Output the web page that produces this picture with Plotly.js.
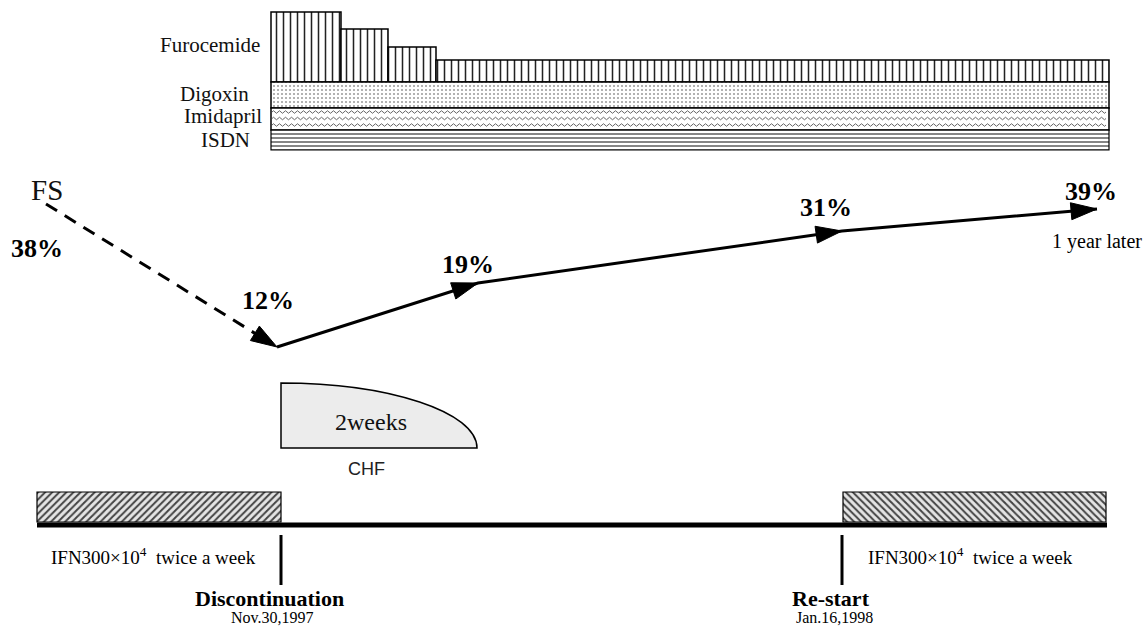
<!DOCTYPE html>
<html><head><meta charset="utf-8">
<script src="https://cdn.plot.ly/plotly-3.0.1.min.js"></script>
<style>html,body{margin:0;padding:0;background:#fff}#plot{width:1148px;height:631px}</style>
</head><body><div id="plot"></div>
<script>
// ---------- data (schematic diagram units) ----------
const drugNames = ['Furocemide', 'Digoxin', 'Imidapril', 'ISDN'];
const furoStart = [271, 341, 388, 436];      // step start along time
const furoEnd   = [341, 388, 436, 1109];     // step end along time
const furoDose  = [70, 53, 35, 22];          // relative dose (bar height)
const drugStart = 271, drugEnd = 1109;

const fsLabels = ['38%', '12%', '19%', '31%', '39%'];
const fsValues = [38, 12, 19, 31, 39];
const fsTime   = [46, 277, 478, 842, 1097];   // schematic time
const fsLevel  = [204, 347, 283, 231, 209];   // schematic level on drawing

const ifnStart = [37, 843];
const ifnEnd   = [281, 1106];
const timelineStart = 37, timelineEnd = 1107;
const events = ['Discontinuation', 'Re-start'];
const eventDates = ['Nov.30,1997', 'Jan.16,1998'];
const eventTime = [281, 842];
const chfStart = 281, chfEnd = 477;

// ---------- layout helpers ----------
const SERIF = 'Liberation Serif, Times New Roman, serif';
const traces = [];
const shapes = [];
const ann = [];

const rowFuroBottom = 82, rowDig = [82, 108], rowImi = [108, 130], rowIsdn = [130, 150];

// Furocemide steps
traces.push({
  type: 'bar', orientation: 'v',
  x: furoStart.map((s, i) => (s + furoEnd[i]) / 2),
  width: furoStart.map((s, i) => furoEnd[i] - s),
  base: furoStart.map(() => rowFuroBottom),
  y: furoDose.map(d => -d),
  marker: {color: '#fff', line: {color: '#000', width: 1.5},
    pattern: {shape: '|', size: 7, solidity: 0.22, fgcolor: '#222', bgcolor: '#fff'}},
  hoverinfo: 'skip', showlegend: false
});
// Digoxin
traces.push({
  type: 'bar', x: [(drugStart + drugEnd) / 2], width: [drugEnd - drugStart],
  base: [rowDig[0]], y: [rowDig[1] - rowDig[0]],
  marker: {color: '#fff', line: {color: '#000', width: 1.5},
    pattern: {shape: '.', size: 4, solidity: 0.2, fgcolor: '#999', bgcolor: '#fff'}},
  hoverinfo: 'skip', showlegend: false
});
// Imidapril
traces.push({
  type: 'bar', x: [(drugStart + drugEnd) / 2], width: [drugEnd - drugStart],
  base: [rowImi[0]], y: [rowImi[1] - rowImi[0]],
  marker: {color: '#fff', line: {color: '#000', width: 1.5}},
  hoverinfo: 'skip', showlegend: false
});
// ISDN
traces.push({
  type: 'bar', x: [(drugStart + drugEnd) / 2], width: [drugEnd - drugStart],
  base: [rowIsdn[0]], y: [rowIsdn[1] - rowIsdn[0]],
  marker: {color: '#fff', line: {color: '#000', width: 1.2},
    pattern: {shape: '-', size: 4, solidity: 0.3, fgcolor: '#333', bgcolor: '#fff'}},
  hoverinfo: 'skip', showlegend: false
});
// wavy texture for Imidapril
[112, 118.5, 125].forEach(yy => {
  let p = `M ${drugStart + 1},${yy}`;
  let first = true;
  for (let xx = drugStart + 1; xx + 6 <= drugEnd - 1; xx += 6) {
    if (first) { p += ` Q ${xx + 1.5},${yy - 2.5} ${xx + 3},${yy}`; first = false; }
    else p += ` T ${xx + 3},${yy}`;
    p += ` T ${xx + 6},${yy}`;
  }
  shapes.push({type: 'path', path: p, xref: 'x', yref: 'y', line: {color: '#555', width: 0.9}});
});

// drug labels
const labelY = [45, 94, 116, 140];
const labelX = [262, 251, 264, 252];
drugNames.forEach((n, i) => ann.push({x: labelX[i], y: labelY[i], text: n, showarrow: false,
  xanchor: 'right', yanchor: 'middle', font: {family: SERIF, size: 21, color: '#111'}}));

// IFN boxes
traces.push({
  type: 'bar', x: [(ifnStart[0] + ifnEnd[0]) / 2], width: [ifnEnd[0] - ifnStart[0]],
  base: [522], y: [-30],
  marker: {color: '#ddd', line: {color: '#000', width: 1.2},
    pattern: {shape: '/', size: 5, solidity: 0.4, fgcolor: '#444', bgcolor: '#e4e4e4'}},
  hoverinfo: 'skip', showlegend: false
});
traces.push({
  type: 'bar', x: [(ifnStart[1] + ifnEnd[1]) / 2], width: [ifnEnd[1] - ifnStart[1]],
  base: [522], y: [-30],
  marker: {color: '#ddd', line: {color: '#000', width: 1.2},
    pattern: {shape: '\\', size: 5, solidity: 0.4, fgcolor: '#444', bgcolor: '#e4e4e4'}},
  hoverinfo: 'skip', showlegend: false
});

// timeline
traces.push({type: 'scatter', mode: 'lines', x: [timelineStart, timelineEnd], y: [525, 525],
  line: {color: '#000', width: 5}, hoverinfo: 'skip', showlegend: false});
eventTime.forEach((t, i) => {
  traces.push({type: 'scatter', mode: 'lines', x: [t, t], y: [535, 585],
    line: {color: '#000', width: 3}, hoverinfo: 'skip', showlegend: false});
});
const eventLabelX = [269, 831];
const eventDateX = [272, 834];
events.forEach((e, i) => {
  ann.push({x: eventLabelX[i], y: 598, text: '<b>' + e + '</b>', showarrow: false, xanchor: 'center', yanchor: 'middle',
    font: {family: SERIF, size: 22, color: '#000'}});
  ann.push({x: eventDateX[i], y: 617, text: eventDates[i], showarrow: false, xanchor: 'center', yanchor: 'middle',
    font: {family: SERIF, size: 16, color: '#000'}});
});
const ifnTextX = [49, 866];
ifnTextX.forEach(x => ann.push({x: x, y: 556, text: 'IFN300×10<sup>4</sup>  twice a week', showarrow: false,
  xanchor: 'left', yanchor: 'middle', font: {family: SERIF, size: 19, color: '#000'}}));

// CHF shape
const chfTop = 383, chfBottom = 448;
const a = chfEnd - chfStart, b = chfBottom - chfTop, k = 0.5523;
shapes.push({type: 'path', xref: 'x', yref: 'y',
  path: `M ${chfStart},${chfBottom} L ${chfStart},${chfTop} C ${chfStart + k * a},${chfTop} ${chfEnd},${chfBottom - k * b} ${chfEnd},${chfBottom} Z`,
  fillcolor: '#ececec', line: {color: '#000', width: 1.5}});
ann.push({x: 371, y: 422, text: '2weeks', showarrow: false, font: {family: SERIF, size: 24, color: '#111'}});
ann.push({x: 366, y: 469, text: 'CHF', showarrow: false, font: {family: 'Liberation Sans, Arial, sans-serif', size: 18, color: '#222'}});

// FS course
function head(tx, ty, fx, fy, len, hw) {
  const dx = tx - fx, dy = ty - fy, L = Math.hypot(dx, dy), ux = dx / L, uy = dy / L;
  const bx = tx - ux * len, by = ty - uy * len;
  return {type: 'path', xref: 'x', yref: 'y', fillcolor: '#000', line: {color: '#000', width: 1},
    path: `M ${tx},${ty} L ${bx - uy * hw},${by + ux * hw} L ${bx + uy * hw},${by - ux * hw} Z`};
}
{
  const dx = fsTime[1] - fsTime[0], dy = fsLevel[1] - fsLevel[0], L = Math.hypot(dx, dy);
  traces.push({type: 'scatter', mode: 'lines',
    x: [fsTime[0], fsTime[1] - dx / L * 24], y: [fsLevel[0], fsLevel[1] - dy / L * 24],
    line: {color: '#000', width: 3, dash: '13px,9px'}, hoverinfo: 'skip', showlegend: false});
}
traces.push({type: 'scatter', mode: 'lines', x: fsTime.slice(1), y: fsLevel.slice(1),
  line: {color: '#000', width: 3}, hoverinfo: 'skip', showlegend: false});
for (let i = 1; i < fsTime.length; i++) {
  shapes.push(head(fsTime[i], fsLevel[i], fsTime[i - 1], fsLevel[i - 1], 26, 8.5));
}
ann.push({x: 47, y: 190, text: 'FS', showarrow: false, xanchor: 'center', font: {family: SERIF, size: 29, color: '#111'}});
const fsLabX = [37, 268, 468, 826, 1091];
const fsLabY = [248, 300, 264, 207, 191];
fsLabels.forEach((l, i) => ann.push({x: fsLabX[i], y: fsLabY[i], text: '<b>' + l + '</b>', showarrow: false,
  xanchor: 'center', yanchor: 'middle', font: {family: SERIF, size: 26, color: '#000'}}));
ann.push({x: 1097, y: 241, text: '1 year later', showarrow: false, font: {family: SERIF, size: 20, color: '#000'}});

const layout = {
  width: 1148, height: 631, margin: {l: 0, r: 0, t: 0, b: 0},
  paper_bgcolor: '#fff', plot_bgcolor: '#fff', barmode: 'overlay', bargap: 0,
  xaxis: {range: [0, 1148], visible: false, fixedrange: true},
  yaxis: {range: [631, 0], visible: false, fixedrange: true},
  shapes: shapes, annotations: ann, showlegend: false
};
Plotly.newPlot('plot', traces, layout, {staticPlot: true});
</script></body></html>
